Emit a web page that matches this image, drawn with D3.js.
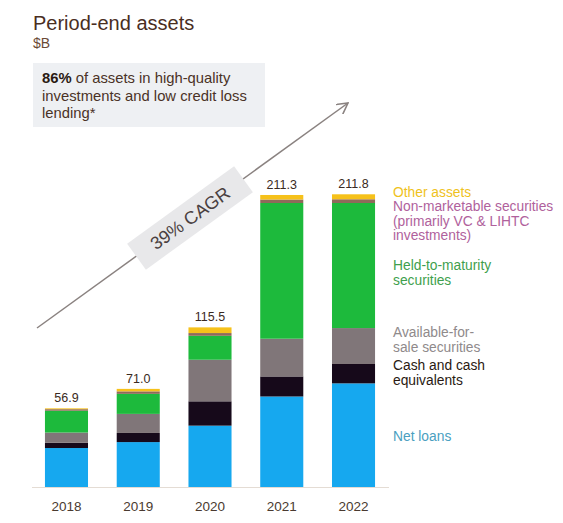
<!DOCTYPE html>
<html><head><meta charset="utf-8">
<script src="https://cdn.jsdelivr.net/npm/d3@7"></script>
<style>body{margin:0;background:#fff;}svg{display:block;font-family:"Liberation Sans",Arial,Helvetica,sans-serif;}</style>
</head><body>
<svg id="c" width="563" height="523"></svg>
<script>
const years = ["2018","2019","2020","2021","2022"];
const totals = [56.9, 71.0, 115.5, 211.3, 211.8];
const netLoans = [28.2, 32.5, 44.4, 65.5, 75.0];
const cash = [3.8, 6.6, 17.6, 14.5, 14.0];
const afs = [7.4, 13.8, 30.1, 27.3, 26.0];
const htm = [15.8, 14.5, 17.3, 98.2, 90.5];
const nonMarketable = [1.1, 1.8, 2.0, 2.5, 2.7];
const otherAssets = [0.6, 1.8, 4.1, 3.3, 3.6];
const seriesNames = ["Net loans","Cash and cash equivalents","Available-for-sale securities","Held-to-maturity securities","Non-marketable securities","Other assets"];
const seriesValues = [netLoans, cash, afs, htm, nonMarketable, otherAssets];
const barColors = ["#16a8ef","#16091a","#807679","#1dba3c","#8f6a5a","#f6c11a"];
const legendLines = [
  {lines:["Other assets"], color:"#efc21c", y:197},
  {lines:["Non-marketable securities","(primarily VC & LIHTC","investments)"], color:"#b0619c", y:211},
  {lines:["Held-to-maturity","securities"], color:"#3f9f4d", y:270},
  {lines:["Available-for-","sale securities"], color:"#8f8a8b", y:337},
  {lines:["Cash and cash","equivalents"], color:"#2a1a12", y:370},
  {lines:["Net loans"], color:"#4a9fbf", y:441}
];

const svg = d3.select("#c");
const x = d3.scaleBand().domain(years).range([30.6, 389.4]).paddingInner(0.4).paddingOuter(0.2);
const y = d3.scaleLinear().domain([0, 220]).range([487, 487 - 220*1.382]);

// Title
svg.append("text").attr("x",33).attr("y",30).attr("font-size",20).attr("fill","#4a2e1f").text("Period-end assets");
svg.append("text").attr("x",33).attr("y",48).attr("font-size",14).attr("fill","#6b4a36").text("$B");

// Callout box
svg.append("rect").attr("x",33).attr("y",63).attr("width",232).attr("height",64).attr("fill","#eef0f3");
const t1 = svg.append("text").attr("x",42).attr("y",83).attr("font-size",14.8).attr("fill","#4a3226");
t1.append("tspan").attr("font-weight","bold").attr("fill","#2a1a12").text("86%");
t1.append("tspan").text(" of assets in high-quality");
svg.append("text").attr("x",42).attr("y",100.5).attr("font-size",14.8).attr("fill","#4a3226").text("investments and low credit loss");
svg.append("text").attr("x",42).attr("y",118).attr("font-size",14.8).attr("fill","#4a3226").text("lending*");

// Arrow
const x0=37,y0=328,x1=348,y1=103;
svg.append("defs").append("marker").attr("id","ah").attr("viewBox","0 0 10 10").attr("refX",9).attr("refY",5)
  .attr("markerWidth",8).attr("markerHeight",8).attr("orient","auto")
  .append("path").attr("d","M0,0 L9,5 L0,10").attr("fill","none").attr("stroke","#8a8280").attr("stroke-width",1.3);
svg.append("line").attr("x1",x0).attr("y1",y0).attr("x2",x1).attr("y2",y1)
  .attr("stroke","#8a8280").attr("stroke-width",1.5).attr("marker-end","url(#ah)");
const ang = Math.atan2(y1-y0, x1-x0)*180/Math.PI;
const cg = svg.append("g").attr("transform",`translate(190,218) rotate(${ang})`);
cg.append("rect").attr("x",-66).attr("y",-16).attr("width",132).attr("height",32).attr("fill","#e8e8ea");
cg.append("text").attr("x",0).attr("y",6.5).attr("text-anchor","middle").attr("font-size",18).attr("fill","#4a4040").text("39% CAGR");

// Baseline
svg.append("line").attr("x1",32).attr("x2",389).attr("y1",487.5).attr("y2",487.5).attr("stroke","#e4dcd4").attr("stroke-width",1);

// Stacked bars
const rows = years.map((yr,i)=>{const r={year:yr}; seriesNames.forEach((n,k)=>r[n]=seriesValues[k][i]); return r;});
const stack = d3.stack().keys(seriesNames)(rows);
svg.append("g").selectAll("g").data(stack).join("g").attr("fill",(d,i)=>barColors[i])
  .selectAll("rect").data(d=>d).join("rect")
  .attr("x",d=>x(d.data.year)).attr("width",x.bandwidth())
  .attr("y",d=>y(d[1])).attr("height",d=>y(d[0])-y(d[1]));

// Totals
svg.append("g").selectAll("text").data(years).join("text")
  .attr("x",d=>x(d)+x.bandwidth()/2).attr("y",(d,i)=>y(totals[i])-6)
  .attr("text-anchor","middle").attr("font-size",12.5).attr("fill","#3a2a22").text((d,i)=>totals[i].toFixed(1));

// Year labels
svg.append("g").selectAll("text").data(years).join("text")
  .attr("x",d=>x(d)+x.bandwidth()/2).attr("y",511)
  .attr("text-anchor","middle").attr("font-size",13.5).attr("fill","#4a3a30").text(d=>d);

// Legend
legendLines.forEach(l=>{
  l.lines.forEach((s,j)=>{
    svg.append("text").attr("x",393).attr("y",l.y+j*14.5).attr("font-size",13.8).attr("fill",l.color).text(s);
  });
});
</script>
</body></html>
